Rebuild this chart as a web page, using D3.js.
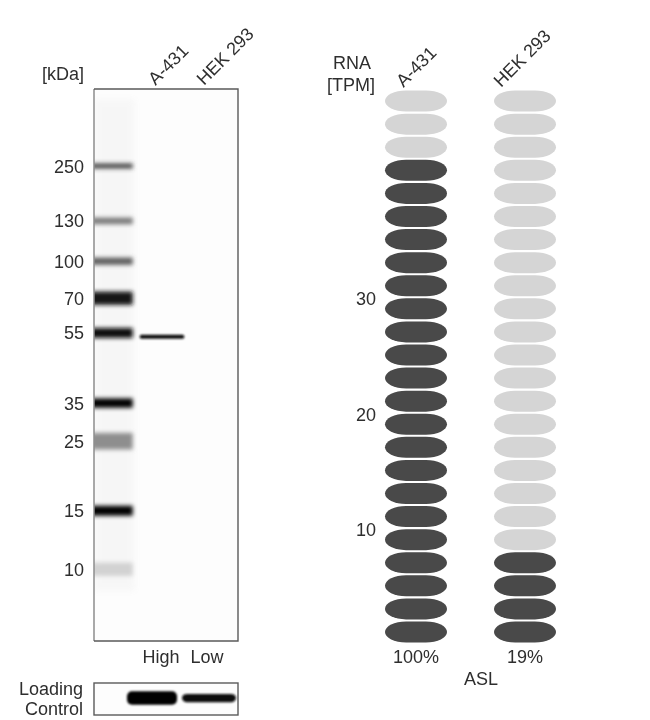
<!DOCTYPE html>
<html><head><meta charset="utf-8">
<script src="https://cdn.jsdelivr.net/npm/d3@7/dist/d3.min.js"></script>
<style>html,body{margin:0;background:#fff}svg{display:block}text{font-family:"Liberation Sans",Arial,sans-serif;fill:#2e2e2e;font-size:18px}</style>
</head><body><div id="c"></div>
<script>
// Western blot: size markers (kDa), relative migration (0 top, 1 bottom of membrane), darkness, band spread
const markerKda = [250,130,100,70,55,35,25,15,10];
const markerMigration = [0.1395,0.239,0.312,0.379,0.442,0.569,0.638,0.764,0.870];
const markerDarkness = [0.72,0.5,0.62,0.92,0.95,1,0.42,1,0.14];
const markerSpread = [0.0045,0.006,0.0065,0.012,0.009,0.0085,0.015,0.009,0.012];
const lanes = ["Marker","A-431","HEK 293"];
const laneLabels = ["A-431","HEK 293"];
const laneLevels = ["High","Low"];
const sampleBandMigration = [0.449];
const sampleBandDarkness = [0.95];
const loadingDarkness = [1,0.95];
const loadingSpread = [0.36,0.22];
// RNA panel
const rnaCells = ["A-431","HEK 293"];
const rnaTpm = [42,8];
const rnaPercent = ["100%","19%"];
const rnaTicks = [10,20,30];
const rnaMax = 48;
const rnaStep = 2;
const gene = "ASL";

const svg = d3.select("#c").append("svg").attr("width",650).attr("height",720);
const defs = svg.append("defs");
[["b15",3],["b1",2.1],["b06",0.9],["t",0.5]].forEach(([id,s])=>{
  defs.append("filter").attr("id",id).attr("x","-20%").attr("y","-100%").attr("width","140%").attr("height","300%")
    .append("feGaussianBlur").attr("stdDeviation",s);
});
const txt = defs.append("filter").attr("id","tx").attr("x","-10%").attr("y","-20%").attr("width","120%").attr("height","140%");
txt.append("feGaussianBlur").attr("stdDeviation",0.45);

// ---- blot panel
const blot = {l:94,r:238,t:89,b:641};
const yBlot = d3.scaleLinear().domain([0,1]).range([blot.t,blot.b]);
const xLane = d3.scaleBand().domain(lanes).range([blot.l,blot.r-2]).paddingInner(0.08);
const ink = d3.scaleLinear().domain([0,1]).range(["#f4f4f4","#000000"]);

svg.append("rect").attr("x",blot.l).attr("y",blot.t).attr("width",blot.r-blot.l).attr("height",blot.b-blot.t).attr("fill","#fdfdfd");
const bw = xLane.bandwidth();
// faint smear in marker lane
svg.append("clipPath").attr("id","bc").append("rect").attr("x",blot.l).attr("y",blot.t).attr("width",blot.r-blot.l).attr("height",blot.b-blot.t);
svg.append("g").attr("clip-path","url(#bc)").append("rect").attr("x",blot.l).attr("width",bw-4).attr("y",blot.t+10).attr("height",blot.b-blot.t-60)
  .attr("fill","#999").attr("opacity",0.06).attr("filter","url(#b15)");
const gBands = svg.append("g").attr("clip-path","url(#bc)").append("g").attr("filter","url(#b1)");
gBands.selectAll("rect.m").data(markerKda).join("rect").attr("class","m")
  .attr("x",blot.l-3).attr("width",bw-3)
  .attr("y",(d,i)=>yBlot(markerMigration[i]-markerSpread[i]))
  .attr("height",(d,i)=>yBlot(2*markerSpread[i])-yBlot(0))
  .attr("fill",(d,i)=>ink(markerDarkness[i]));
svg.append("g").attr("filter","url(#b06)").selectAll("rect.s").data(sampleBandMigration).join("rect").attr("class","s")
  .attr("x",xLane("A-431")-3).attr("width",bw)
  .attr("y",d=>yBlot(d)-2).attr("height",4).attr("rx",2)
  .attr("fill",(d,i)=>ink(sampleBandDarkness[i]));

svg.append("path").attr("d",`M${blot.l},${blot.b}V${blot.t}`).attr("stroke","#8c8c8c").attr("stroke-width",1.5).attr("fill","none");
svg.append("path").attr("d",`M${blot.l},${blot.t}H${blot.r}V${blot.b}H${blot.l}`).attr("stroke","#5a5a5a").attr("stroke-width",1.4).attr("fill","none");

const T = svg.append("g").attr("filter","url(#tx)");
T.selectAll("text.k").data(markerKda).join("text").attr("class","k")
  .attr("x",84).attr("y",(d,i)=>yBlot(markerMigration[i])+6.5).attr("text-anchor","end").text(d=>d);
T.append("text").attr("x",84).attr("y",80).attr("text-anchor","end").text("[kDa]");
const xHead = d3.scalePoint().domain(laneLabels).range([155.5,204]);
T.selectAll("text.h").data(laneLabels).join("text").attr("class","h")
  .attr("transform",d=>`translate(${xHead(d)},86) rotate(-45)`).text(d=>d);
const xLevel = d3.scalePoint().domain(laneLevels).range([161,207]);
T.selectAll("text.l").data(laneLevels).join("text").attr("class","l")
  .attr("x",d=>xLevel(d)).attr("y",663).attr("text-anchor","middle").text(d=>d);
T.append("text").attr("x",83).attr("y",695).attr("text-anchor","end").text("Loading");
T.append("text").attr("x",83).attr("y",715).attr("text-anchor","end").text("Control");

// ---- loading control
const lc = {t:683,b:715};
svg.append("rect").attr("x",blot.l).attr("y",lc.t).attr("width",blot.r-blot.l).attr("height",lc.b-lc.t)
  .attr("fill","#fdfdfd").attr("stroke","#5a5a5a").attr("stroke-width",1.4);
const xLoad = d3.scalePoint().domain(laneLevels).range([152,209]);
svg.append("g").attr("filter","url(#b06)").selectAll("rect.c").data(laneLevels).join("rect").attr("class","c")
  .attr("x",(d,i)=>xLoad(d)-(i?27:25)).attr("width",(d,i)=>i?54:50)
  .attr("y",(d,i)=>698-30*loadingSpread[i]/1.6).attr("height",(d,i)=>60*loadingSpread[i]/1.6)
  .attr("rx",5).attr("fill",(d,i)=>ink(loadingDarkness[i]));

// ---- RNA panel
const yRna = d3.scaleLinear().domain([0,rnaMax]).range([643.5,89.5]);
const xRna = d3.scalePoint().domain(rnaCells).range([416,525]);
const pillW = 62, pillH = 21;
const steps = d3.range(0,rnaMax,rnaStep);
const gPills = svg.append("g").attr("filter","url(#t)");
rnaCells.forEach((c,ci)=>{
  gPills.append("g").selectAll("rect").data(steps).join("rect")
    .attr("x",xRna(c)-pillW/2).attr("width",pillW)
    .attr("y",d=>yRna(d+rnaStep/2)-pillH/2).attr("height",pillH)
    .attr("rx",21).attr("ry",pillH/2)
    .attr("fill",d=>d<rnaTpm[ci]?"#484848":"#d5d5d5");
});
T.selectAll("text.r").data(rnaTicks).join("text").attr("class","r")
  .attr("x",376).attr("y",d=>yRna(d)+8).attr("text-anchor","end").text(d=>d);
T.append("text").attr("x",352).attr("y",69).attr("text-anchor","middle").text("RNA");
T.append("text").attr("x",351).attr("y",91).attr("text-anchor","middle").text("[TPM]");
const xRnaHead = d3.scalePoint().domain(rnaCells).range([403.5,501]);
T.selectAll("text.rh").data(rnaCells).join("text").attr("class","rh")
  .attr("transform",d=>`translate(${xRnaHead(d)},88) rotate(-45)`).text(d=>d);
T.selectAll("text.p").data(rnaCells).join("text").attr("class","p")
  .attr("x",d=>xRna(d)).attr("y",663).attr("text-anchor","middle").text((d,i)=>rnaPercent[i]);
T.append("text").attr("x",481).attr("y",685).attr("text-anchor","middle").text(gene);
</script></body></html>
